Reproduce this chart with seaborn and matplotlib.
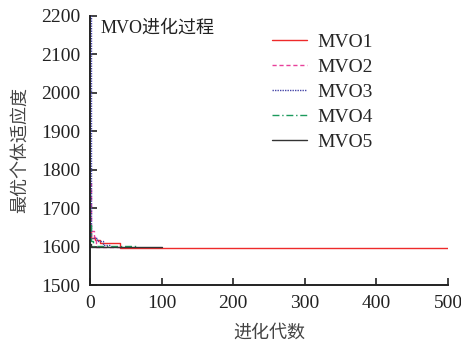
import numpy as np
import pandas as pd
import seaborn as sns
import matplotlib.pyplot as plt

# ----------------------------
# data
# ----------------------------
gen1 = [0, 1, 2, 7, 14, 42, 500]
mvo1 = [1643, 1640, 1622, 1616, 1610, 1597, 1597]

gen2 = [0, 1, 2, 6, 9, 44]
mvo2 = [1765, 1700, 1640, 1625, 1599, 1599]

gen3 = [0, 1, 2, 10, 18, 30]
mvo3 = [2200, 1640, 1622, 1614, 1604, 1604]

gen4 = [0, 1, 2, 5, 65]
mvo4 = [1655, 1640, 1615, 1602, 1602]

gen5 = [0, 2, 100]
mvo5 = [1608, 1600, 1600]

labels = ["MVO1", "MVO2", "MVO3", "MVO4", "MVO5"]
colors = ["#ee2a2a", "#e8409a", "#4646a8", "#1c9a5c", "#333333"]
styles = ["-", (0, (3, 2)), (0, (1, 0.8)), (0, (5, 2, 1, 2)), "-"]

series = [(gen1, mvo1), (gen2, mvo2), (gen3, mvo3), (gen4, mvo4), (gen5, mvo5)]

sns.set_style("ticks")
plt.rcParams['font.family'] = ['Liberation Serif', 'Noto Sans CJK SC']
plt.rcParams['axes.unicode_minus'] = False

fig = plt.figure(figsize=(4.61, 3.46), dpi=100)
ax = fig.add_axes([0.195, 0.176, 0.777, 0.779])

for (x, y), lab, c, ls in zip(series, labels, colors, styles):
    df = pd.DataFrame({"gen": x, "fit": y})
    sns.lineplot(data=df, x="gen", y="fit", ax=ax, color=c, linestyle=ls,
                 linewidth=1.0, drawstyle="steps-post", label=lab)

ax.set_xlim(0, 500)
ax.set_ylim(1500, 2200)
ax.set_xticks(np.arange(0, 501, 100))
ax.set_yticks(np.arange(1500, 2201, 100))
ax.tick_params(direction="in", length=5, width=1.2, labelsize=14, pad=7,
               colors="#222222")
for s in ["top", "right"]:
    ax.spines[s].set_visible(False)
for s in ["left", "bottom"]:
    ax.spines[s].set_linewidth(1.4)
    ax.spines[s].set_color("#222222")

ax.set_xlabel("进化代数", fontsize=13, color="#444444", labelpad=9)
ax.set_ylabel("最优个体适应度", fontsize=13, color="#444444", labelpad=9)
ax.text(0.03, 0.955, "MVO进化过程", transform=ax.transAxes, fontsize=13,
        va="center", ha="left", color="#222222")

ax.legend(loc="upper left", bbox_to_anchor=(0.46, 1.0), frameon=False,
          fontsize=14, handlelength=1.8, handletextpad=0.55, labelspacing=0.38)

fig.savefig("out.png", dpi=100)
